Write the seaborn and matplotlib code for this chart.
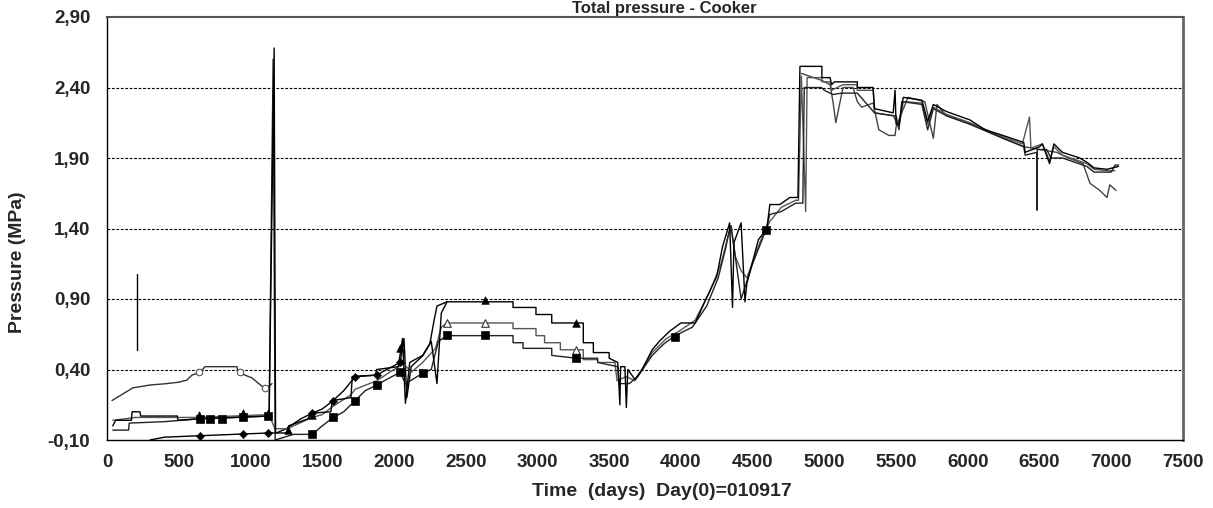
import numpy as np
import pandas as pd
import matplotlib
matplotlib.use("Agg")
import matplotlib.pyplot as plt
from matplotlib.ticker import FuncFormatter, MultipleLocator
import seaborn as sns

# sensor readings (days since start, pressure MPa)
s1_day = [40, 60, 170, 175, 230, 235, 490, 495, 640, 900, 1130, 1165, 1175, 1260, 1265, 1400, 1420, 1560, 1570,
          1700, 1710, 1870, 1880, 2030, 2060, 2080, 2110, 2200, 2260, 2300, 2330, 2370, 2830, 2830, 2990, 2990,
          3100, 3100, 3320, 3320, 3390, 3390, 3500, 3500, 3560, 3575, 3580, 3610, 3620, 3630, 3680, 3730, 3800,
          3850, 3920, 4000, 4100, 4180, 4250, 4290, 4340, 4360, 4370, 4420, 4447, 4460, 4540, 4600, 4620, 4690,
          4760, 4816, 4830, 4983, 4983, 5040, 5050, 5070, 5230, 5230, 5340, 5350, 5480, 5493, 5500, 5520, 5550,
          5680, 5720, 5760, 5850, 6015, 6120, 6245, 6390, 6400, 6500, 6520, 6570, 6600, 6660, 6780, 6830, 6880,
          6970, 7050]
s1_val = [0.0, 0.04, 0.04, 0.10, 0.10, 0.07, 0.07, 0.04, 0.05, 0.06, 0.07, 2.68, -0.05, -0.05, 0.0, 0.05, 0.09,
          0.10, 0.18, 0.20, 0.35, 0.36, 0.40, 0.42, 0.62, 0.16, 0.45, 0.50, 0.60, 0.30, 0.80, 0.88, 0.88, 0.84,
          0.84, 0.79, 0.79, 0.73, 0.73, 0.59, 0.59, 0.52, 0.52, 0.48, 0.45, 0.15, 0.42, 0.42, 0.13, 0.40, 0.33,
          0.40, 0.54, 0.60, 0.67, 0.73, 0.73, 0.91, 1.06, 1.27, 1.44, 0.84, 1.30, 1.44, 0.88, 1.01, 1.32, 1.40,
          1.57, 1.57, 1.62, 1.62, 2.55, 2.55, 2.47, 2.47, 2.42, 2.44, 2.44, 2.40, 2.40, 2.25, 2.22, 2.38, 2.14,
          2.14, 2.33, 2.31, 2.16, 2.28, 2.23, 2.17, 2.10, 2.06, 2.01, 1.94, 1.98, 2.00, 1.86, 2.00, 1.94, 1.90,
          1.87, 1.83, 1.82, 1.84]

s2_day = [40, 150, 155, 400, 640, 1130, 1158, 1172, 1300, 1430, 1500, 1577, 1650, 1730, 1800, 1880, 1950, 2043,
          2080, 2130, 2203, 2260, 2310, 2370, 2830, 2830, 2900, 2900, 3100, 3100, 3270, 3420, 3420, 3560, 3570,
          3640, 3700, 3800, 3880, 3960, 4080, 4180, 4260, 4310, 4340, 4350, 4420, 4500, 4593, 4620, 4700, 4800,
          4850, 4860, 4980, 5000, 5060, 5120, 5230, 5350, 5480, 5500, 5520, 5540, 5680, 5720, 5760, 5850, 6015,
          6245, 6390, 6400, 6480, 6482, 6485, 6550, 6580, 6660, 6830, 6880, 6970, 7000, 7026, 7050]
s2_val = [-0.03, -0.03, 0.02, 0.03, 0.05, 0.07, 2.60, -0.10, -0.06, -0.06, 0.0, 0.06, 0.10, 0.18, 0.25, 0.29, 0.33,
          0.38, 0.30, 0.33, 0.375, 0.40, 0.60, 0.64, 0.64, 0.59, 0.59, 0.55, 0.55, 0.50, 0.48, 0.48, 0.45, 0.42,
          0.30, 0.30, 0.35, 0.50, 0.58, 0.64, 0.70, 0.85, 1.05, 1.25, 1.40, 1.42, 0.90, 1.15, 1.39, 1.50, 1.52,
          1.58, 1.58, 2.40, 2.40, 2.38, 2.35, 2.36, 2.36, 2.22, 2.20, 2.20, 2.10, 2.30, 2.28, 2.10, 2.25, 2.20,
          2.14, 2.04, 1.98, 1.92, 1.94, 1.53, 1.96, 1.96, 1.90, 1.90, 1.84, 1.80, 1.80, 1.80, 1.85, 1.85]

s3_day = [40, 200, 640, 1130, 1170, 1262, 1300, 1430, 1500, 1577, 1700, 1730, 1880, 2000, 2070, 2120, 2200, 2290,
          2330, 2370, 2830, 2830, 2990, 2990, 3050, 3050, 3160, 3160, 3320, 3320, 3420, 3420, 3540, 3555, 3620,
          3680, 3740, 3800, 3900, 4000, 4100, 4200, 4280, 4330, 4350, 4380, 4420, 4460, 4550, 4620, 4700, 4800,
          4820, 4840, 4870, 4880, 4983, 4983, 5040, 5050, 5130, 5230, 5230, 5340, 5350, 5480, 5520, 5550, 5680,
          5720, 5760, 5850, 6015, 6245, 6380, 6430, 6440, 6520, 6570, 6600, 6660, 6830, 6880, 6970, 7026]
s3_val = [0.04, 0.06, 0.06, 0.08, -0.02, -0.02, 0.0, 0.06, 0.08, 0.14, 0.22, 0.26, 0.32, 0.40, 0.44, 0.38, 0.45,
          0.55, 0.70, 0.73, 0.73, 0.69, 0.69, 0.64, 0.64, 0.59, 0.59, 0.54, 0.54, 0.47, 0.47, 0.45, 0.45, 0.32,
          0.35, 0.32, 0.42, 0.52, 0.62, 0.68, 0.75, 0.95, 1.15, 1.35, 1.40, 1.20, 1.10, 1.05, 1.30, 1.45, 1.55,
          1.60, 1.60, 2.48, 1.52, 2.47, 2.47, 2.44, 2.44, 2.38, 2.42, 2.42, 2.38, 2.38, 2.22, 2.20, 2.12, 2.30,
          2.29, 2.14, 2.26, 2.21, 2.15, 2.05, 2.00, 2.19, 1.97, 2.00, 1.88, 1.98, 1.92, 1.86, 1.82, 1.81, 1.81]

s4_day = [300, 400, 640, 1130, 1150, 1180, 1250, 1350, 1430, 1500, 1577, 1650, 1730, 1880, 1950, 2043, 2070, 2090,
          2120, 2203, 2250, 2280, 2300, 2370]
s4_val = [-0.10, -0.08, -0.07, -0.05, -0.05, -0.05, -0.02, 0.05, 0.09, 0.12, 0.18, 0.25, 0.35, 0.36, 0.40, 0.45,
          0.62, 0.20, 0.42, 0.50, 0.58, 0.75, 0.85, 0.88]

s5_day = [35, 181, 300, 418, 500, 557, 592, 648, 683, 906, 913, 1011, 1087, 1130, 1150]
s5_val = [0.18, 0.27, 0.29, 0.30, 0.31, 0.325, 0.36, 0.38, 0.42, 0.42, 0.38, 0.34, 0.276, 0.28, 0.30]

s6_day = [4840, 4983, 5040, 5060, 5080, 5100, 5130, 5200, 5230, 5260, 5340, 5380, 5450, 5493, 5500, 5583, 5700,
          5760, 5785, 5850, 6015, 6245, 6390, 6620, 6700, 6780, 6803, 6852, 6920, 6970, 6990, 7033]
s6_val = [2.50, 2.45, 2.42, 2.30, 2.15, 2.25, 2.40, 2.40, 2.30, 2.26, 2.29, 2.10, 2.06, 2.06, 2.12, 2.33, 2.30,
          2.04, 2.28, 2.20, 2.14, 2.04, 1.98, 1.94, 1.90, 1.87, 1.86, 1.72, 1.67, 1.62, 1.71, 1.67]

s7_day = [207, 207]
s7_val = [0.54, 1.08]

# markers
tri_day = [640, 950, 1120, 1262, 1430, 2040, 2635, 3270]
tri_val = [0.08, 0.09, 0.09, -0.03, 0.08, 0.55, 0.89, 0.73]
otri_day = [2370, 2635, 3270]
otri_val = [0.73, 0.73, 0.54]
sq_day = [650, 720, 800, 950, 1120, 1430, 1577, 1730, 1880, 2043, 2203, 2370, 2635, 3270, 3960, 4593]
sq_val = [0.05, 0.05, 0.05, 0.06, 0.07, -0.06, 0.06, 0.18, 0.29, 0.38, 0.375, 0.645, 0.645, 0.48, 0.63, 1.39]
dia_day = [650, 950, 1120, 1430, 1577, 1730, 1880, 2043]
dia_val = [-0.07, -0.06, -0.05, 0.09, 0.18, 0.35, 0.36, 0.45]
circ_day = [640, 930, 1100]
circ_val = [0.38, 0.38, 0.27]

yticks = [-0.10, 0.40, 0.90, 1.40, 1.90, 2.40, 2.90]

sns.set_style("white")
plt.rcParams['font.family'] = ['Liberation Sans', 'DejaVu Sans']

fig = plt.figure(figsize=(12.13, 5.08), dpi=100)
ax = fig.add_axes([107/1213, 68/508, 1076/1213, 423/508])

for y in yticks[1:-1]:
    ax.axhline(y, color="k", lw=0.8, ls=(0, (2.5, 1.5)), zorder=0)

lines = [(s5_day, s5_val, "#333333"), (s6_day, s6_val, "#444444"), (s4_day, s4_val, "black"),
         (s3_day, s3_val, "#555555"), (s2_day, s2_val, "#222222"), (s1_day, s1_val, "black"),
         (s7_day, s7_val, "black")]
for d, v, c in lines:
    sns.lineplot(x=d, y=v, ax=ax, color=c, lw=1.0, sort=False, estimator=None)

sns.scatterplot(x=tri_day, y=tri_val, ax=ax, marker="^", color="black", s=30, edgecolor="black", zorder=5)
sns.scatterplot(x=otri_day, y=otri_val, ax=ax, marker="^", facecolor="white", s=30, edgecolor="#333333", linewidth=0.8, zorder=5)
sns.scatterplot(x=sq_day, y=sq_val, ax=ax, marker="s", color="black", s=34, edgecolor="black", zorder=5)
sns.scatterplot(x=dia_day, y=dia_val, ax=ax, marker="D", color="black", s=18, edgecolor="black", zorder=5)
sns.scatterplot(x=circ_day, y=circ_val, ax=ax, marker="o", facecolor="white", s=22, edgecolor="#555555", linewidth=0.8, zorder=5)

ax.set_xlim(0, 7500)
ax.set_ylim(-0.10, 2.90)
ax.xaxis.set_major_locator(MultipleLocator(500))
ax.set_yticks(yticks)
ax.yaxis.set_major_formatter(FuncFormatter(lambda v, p: f"{v:.2f}".replace(".", ",")))
ax.tick_params(axis="both", direction="out", length=6, width=1, color="black", labelsize=13.5)
ax.tick_params(axis="x", pad=4)
ax.tick_params(axis="y", pad=6)
for lab in ax.get_xticklabels() + ax.get_yticklabels():
    lab.set_fontweight("bold")
ax.set_xlabel("")
ax.set_ylabel("")

for side in ["left", "bottom"]:
    ax.spines[side].set_color("black")
    ax.spines[side].set_linewidth(1.0)
ax.spines["top"].set_color("#555555")
ax.spines["top"].set_linewidth(1.5)
ax.spines["right"].set_color("#666666")
ax.spines["right"].set_linewidth(2.0)

fig.text(664/1213, 1 - 1/508, "Total pressure - Cooker", ha="center", va="top",
         fontsize=12, fontweight="bold")
fig.text(662/1213, 1 - 491/508, "Time  (days)  Day(0)=010917", ha="center", va="center",
         fontsize=14, fontweight="bold")
fig.text(18/1213, 1 - 262/508, "Pressure (MPa)", ha="center", va="center", rotation=90,
         fontsize=14, fontweight="bold")

fig.savefig("out.png", dpi=100, facecolor="white")
